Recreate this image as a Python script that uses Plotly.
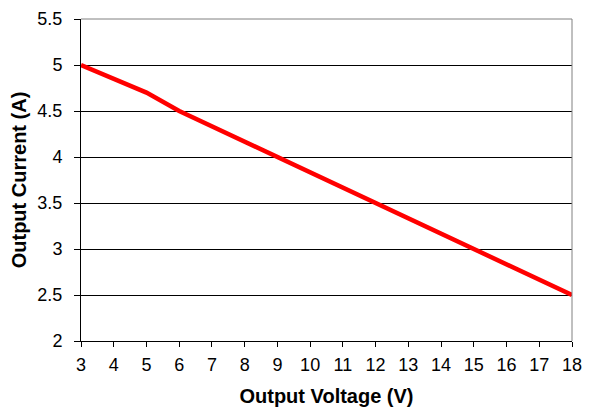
import plotly.graph_objects as go

# Datos de la curva tension-corriente
voltage = [3, 5, 6, 9, 12, 15, 18]
current = [5.0, 4.7, 4.5, 4.0, 3.5, 3.0, 2.5]

x_ticks = list(range(3, 19))
y_ticks = [2, 2.5, 3, 3.5, 4, 4.5, 5, 5.5]
y_labels = ["2", "2.5", "3", "3.5", "4", "4.5", "5", "5.5"]

fig = go.Figure()

fig.add_trace(go.Scatter(
    x=voltage,
    y=current,
    mode="lines",
    line=dict(color="#ff0000", width=4.5),
    showlegend=False,
))

# La pagina tiene 8px de margen en el body, por eso la figura es algo menor
fig.update_layout(
    width=583,
    height=402,
    margin=dict(l=73, r=19, t=11, b=69),
    paper_bgcolor="white",
    plot_bgcolor="white",
    font=dict(family="Liberation Sans, Arial, sans-serif", size=18, color="black"),
)

fig.update_xaxes(
    range=[3, 18],
    tickvals=x_ticks,
    showgrid=False,
    zeroline=False,
    showline=True,
    linecolor="black",
    linewidth=1,
    ticks="outside",
    ticklen=5,
    tickcolor="black",
    ticklabelstandoff=2,
    automargin=False,
    title=dict(text="<b>Output Voltage (V)</b>", standoff=15, font=dict(size=20)),
)

fig.update_yaxes(
    range=[2, 5.5],
    tickvals=y_ticks,
    ticktext=y_labels,
    showgrid=True,
    gridcolor="black",
    gridwidth=1,
    zeroline=False,
    showline=True,
    linecolor="black",
    linewidth=1,
    ticks="outside",
    ticklen=6,
    tickcolor="black",
    ticklabelstandoff=8,
    automargin=False,
    title=dict(text="<b>Output Current (A)</b>", standoff=5, font=dict(size=20)),
)

# Borde derecho y superior gris del area del grafico
fig.add_shape(type="line", xref="paper", yref="paper", x0=1, x1=1, y0=0, y1=1,
              line=dict(color="#808080", width=1))
fig.add_shape(type="line", xref="paper", yref="paper", x0=0, x1=1, y0=1, y1=1,
              line=dict(color="#808080", width=1))

fig.write_html("out.html")
